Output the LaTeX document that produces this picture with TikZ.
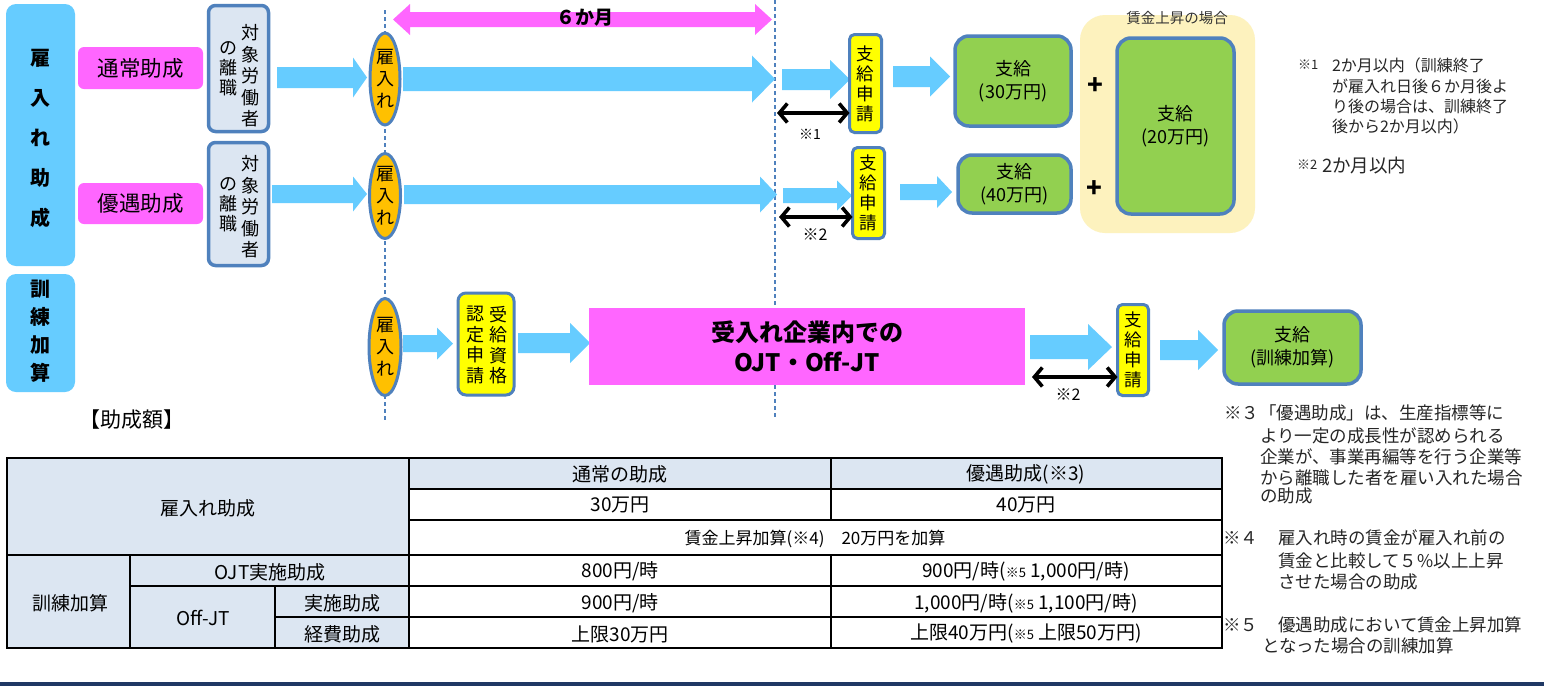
\documentclass[tikz,border=0pt]{standalone}
\usepackage{fontspec}
\setmainfont{Noto Sans CJK JP}
\usetikzlibrary{arrows.meta,shapes.geometric}
\definecolor{skyb}{RGB}{102,204,255}
\definecolor{pinkc}{RGB}{255,102,255}
\definecolor{bordb}{RGB}{79,129,189}
\definecolor{orng}{RGB}{255,192,0}
\definecolor{yell}{RGB}{255,255,0}
\definecolor{grn}{RGB}{146,208,80}
\definecolor{bgray}{RGB}{220,230,242}
\definecolor{cream}{RGB}{253,242,190}
\definecolor{navy}{RGB}{31,56,100}
\newcommand{\fsz}[2]{\fontsize{#1}{#2}\selectfont}
% block arrow: x1, x2, yc, half shaft, half head, head start
\newcommand{\barrow}[6]{%
  \fill[skyb] (#1,#3-#4) -- (#6,#3-#4) -- (#6,#3-#5) -- (#2,#3) -- (#6,#3+#5) -- (#6,#3+#4) -- (#1,#3+#4) -- cycle;}
\tikzset{
  bigbox/.style={fill=skyb, rounded corners=10pt},
  pinkbox/.style={fill=pinkc, rounded corners=6pt, font=\fsz{21.5}{24}},
  tgtbox/.style={draw=bordb, line width=3.5pt, fill=bgray, rounded corners=7pt},
  hireell/.style={ellipse, draw=bordb, line width=3pt, fill=orng, font=\fsz{18}{22}, align=center},
  appbox/.style={draw=bordb, line width=3pt, fill=yell, rounded corners=5pt, font=\fsz{17.5}{20}, align=center},
  paybox/.style={draw=bordb, line width=3.5pt, fill=grn, rounded corners=14pt, font=\fsz{18}{23}, align=center},
  dline/.style={bordb, line width=1.2pt, dash pattern=on 4pt off 3pt},
  dblarrow/.style={line width=3.6pt, {Straight Barb[length=8pt,width=19pt]}-{Straight Barb[length=8pt,width=19pt]}},
  note/.style={anchor=west, font=\fsz{17.5}{20}, text=black!85},
  tcell/.style={font=\fsz{19}{20}},
  tline/.style={line width=1.5pt}
}
\begin{document}
\begin{tikzpicture}[x=1pt,y=-1pt, every node/.style={inner sep=0pt, outer sep=0pt}]
\useasboundingbox (0,0) rectangle (1544,686);
\fill[white] (0,0) rectangle (1544,686);

% dashed time lines
\draw[dline] (385,10) -- (385,420);
\draw[dline] (775,0) -- (775,418);

% left category boxes
\node[bigbox, minimum width=69, minimum height=262] (hire) at (40.5,135) {};
\node[font=\fsz{20}{40}\bfseries, align=center] (hiret) at (40.5,138) {雇\\入\\れ\\助\\成};
\node[bigbox, minimum width=69, minimum height=118] (train) at (40.5,333) {};
\node[font=\fsz{20}{28}\bfseries, align=center] (traint) at (40.5,331) {訓\\練\\加\\算};

% pink labels
\node[pinkbox, minimum width=125, minimum height=42] (normal) at (140.5,68) {通常助成};
\node[pinkbox, minimum width=125, minimum height=41] (pref) at (140.5,203.5) {優遇助成};

% target worker boxes
\node[tgtbox, minimum width=60, minimum height=126] (tgt1) at (238.5,68.5) {};
\node[font=\fsz{18}{21.5}, align=center] (tgt1r) at (250,76) {対\\象\\労\\働\\者};
\node[font=\fsz{18}{20}, align=center] (tgt1l) at (228,69) {の\\離\\職};
\node[tgtbox, minimum width=60, minimum height=123] (tgt2) at (238.5,204) {};
\node[font=\fsz{18}{21.5}, align=center] (tgt2r) at (250,207) {対\\象\\労\\働\\者};
\node[font=\fsz{18}{20}, align=center] (tgt2l) at (228,205) {の\\離\\職};

% arrows row 1 and 2 (to hiring)
\barrow{277}{367}{77.5}{10.5}{20}{353}
\barrow{272}{367}{194}{9}{17.5}{353}

% hiring ellipses
\node[hireell, minimum width=30, minimum height=92] (hire1) at (385,79) {雇\\入\\れ};
\node[hireell, minimum width=31, minimum height=85] (hire2) at (385,196) {雇\\入\\れ};
\node[hireell, minimum width=32, minimum height=97] (hire3) at (385,347) {雇\\入\\れ};

% six months arrow
\fill[pinkc] (393,19.5) -- (410,4) -- (410,12) -- (755,12) -- (755,4) -- (772,19.5) -- (755,35) -- (755,27) -- (410,27) -- (410,35) -- cycle;
\node[font=\fsz{19}{20}\bfseries] (six) at (585,18) {６か月};

% long arrows
\barrow{403}{775}{79}{12}{23.5}{752}
\barrow{404}{777}{194.5}{9.5}{18}{760}
% short arrows to application
\barrow{782}{850}{79.5}{10.5}{19.5}{830}
\barrow{783}{852}{195.5}{7.5}{15}{837}

% application boxes
\node[appbox, minimum width=32, minimum height=98] (app1) at (865.5,83.5) {支\\給\\申\\請};
\node[appbox, minimum width=32, minimum height=91] (app2) at (868.5,193) {支\\給\\申\\請};
\node[appbox, minimum width=31, minimum height=91] (app3) at (1133,350) {支\\給\\申\\請};

% double arrows (period)
\coordinate (p1) at (777,113);
\coordinate (p2) at (779,217);
\draw[dblarrow] (p1) -- (p1 -| app1.west);
\draw[dblarrow] (p2) -- (p2 -| app2.west);
\node[font=\fsz{14}{15}] (n1) at (810,134) {※1};
\node[font=\fsz{16}{17}] (n2) at (815,235) {※2};

% arrows to payment
\barrow{893}{950}{76.5}{10.5}{20}{930}
\barrow{900}{952}{192}{8}{16}{937}

% wage increase background
\fill[cream, rounded corners=25pt] (1080,15) rectangle (1255,233);
\node[font=\fsz{14.5}{15}, text=black!80] (wagecase) at (1177,18) {賃金上昇の場合};

% payment boxes
\node[paybox, minimum width=116, minimum height=90] (pay1) at (1013,81) {支給\\(30万円)};
\node[paybox, minimum width=113, minimum height=58] (pay2) at (1014.5,184) {支給\\(40万円)};
\node[paybox, minimum width=117, minimum height=176] (pay3) at (1175.5,126) {支給\\(20万円)};
\node[font=\fsz{26}{26}\bfseries] (plus1) at (1095,86) {+};
\node[font=\fsz{26}{26}\bfseries] (plus2) at (1094,189) {+};

% notes top right
\node[note, font=\fsz{13}{14}] (s1) at (1298,65) {※1};
\node[note, font=\fsz{16}{20}] (s1a) at (1332,65) {2か月以内（訓練終了};
\node[note, font=\fsz{16}{20}] (s1b) at (1332,86) {が雇入れ日後６か月後よ};
\node[note, font=\fsz{16}{20}] (s1c) at (1332,106) {り後の場合は、訓練終了};
\node[note, font=\fsz{16}{20}] (s1d) at (1332,126) {後から2か月以内）};
\node[note, font=\fsz{13}{14}] (s2) at (1297,165) {※2};
\node[note, font=\fsz{18.5}{20}] (s2a) at (1322,165) {2か月以内};

% training row
\barrow{403}{453}{343.5}{8.5}{16}{437}
\node[appbox, minimum width=56, minimum height=102, rounded corners=8pt] (cert) at (486,344) {};
\node[font=\fsz{18}{20.5}, align=center] (certr) at (498,345) {受\\給\\資\\格};
\node[font=\fsz{18}{20.5}, align=center] (certl) at (475,345) {認\\定\\申\\請};
\barrow{518}{590}{343}{10}{20}{570}
\node[fill=pinkc, minimum width=436, minimum height=77, font=\fsz{24}{30}\bfseries, align=center] (ojt) at (807,346.5) {受入れ企業内での\\OJT・Off-JT};
\barrow{1030}{1112}{347}{12}{23}{1088}
\coordinate (p3) at (1032,377);
\draw[dblarrow] (p3) -- (p3 -| app3.west);
\node[font=\fsz{16}{17}] (n3) at (1068,395) {※2};
\barrow{1160}{1218}{350}{10}{20}{1198}
\node[paybox, minimum width=137, minimum height=73] (pay4) at (1292.5,347.5) {支給\\(訓練加算)};

% notes bottom right
\node[note] (s3a) at (1224,413) {※３「優遇助成」は、生産指標等に};
\node[note] (s3b) at (1260,436) {より一定の成長性が認められる};
\node[note] (s3c) at (1260,457) {企業が、事業再編等を行う企業等};
\node[note] (s3d) at (1260,478) {から離職した者を雇い入れた場合};
\node[note] (s3e) at (1260,496) {の助成};
\node[note] (s4) at (1223,538) {※４};
\node[note] (s4a) at (1278,538) {雇入れ時の賃金が雇入れ前の};
\node[note] (s4b) at (1278,561) {賃金と比較して５\%以上上昇};
\node[note] (s4c) at (1278,582) {させた場合の助成};
\node[note] (s5) at (1223,625) {※５};
\node[note] (s5a) at (1278,625) {優遇助成において賃金上昇加算};
\node[note] (s5b) at (1262,646) {となった場合の訓練加算};

% table title
\node[font=\fsz{21}{22}] (ttl) at (132,420) {【助成額】};

% table
\fill[bgray] (7,458) rectangle (409,648);
\fill[bgray] (409,458) rectangle (1222,489);
\draw[tline] (409,458) -- (409,648);
\draw[tline] (831,458) -- (831,520);
\draw[tline] (831,555) -- (831,648);
\draw[tline] (409,489) -- (1222,489);
\draw[tline] (409,520) -- (1222,520);
\draw[tline] (7,555) -- (1222,555);
\draw[tline] (130,586) -- (1222,586);
\draw[tline] (275,617) -- (1222,617);
\draw[tline] (130,555) -- (130,648);
\draw[tline] (275,586) -- (275,648);
\draw[line width=2pt] (7,458) rectangle (1222,648);

\node[tcell] (c11) at (208,508) {雇入れ助成};
\node[tcell] (c21) at (70,603) {訓練加算};
\node[tcell] (c22) at (270,572) {OJT実施助成};
\node[tcell] (c31) at (203,618) {Off-JT};
\node[tcell] (c32) at (342,603) {実施助成};
\node[tcell] (c42) at (342,634) {経費助成};
\node[tcell] (h1) at (620,474) {通常の助成};
\node[tcell] (h2) at (1026,474) {優遇助成(※3)};
\node[tcell] (r1a) at (620,505) {30万円};
\node[tcell] (r1b) at (1026,505) {40万円};
\node[tcell, font=\fsz{17}{18}] (r2) at (815,539) {賃金上昇加算(※4)　20万円を加算};
\node[tcell] (r3a) at (620,571) {800円/時};
\node[tcell] (r3b) at (1026,571) {900円/時({\fsz{13}{14}※5} 1,000円/時)};
\node[tcell] (r4a) at (620,603) {900円/時};
\node[tcell] (r4b) at (1026,603) {1,000円/時({\fsz{13}{14}※5} 1,100円/時)};
\node[tcell] (r5a) at (620,634) {上限30万円};
\node[tcell] (r5b) at (1026,634) {上限40万円({\fsz{13}{14}※5} 上限50万円)};

% bottom bar
\fill[navy] (0,682) rectangle (1544,686);
\end{tikzpicture}
\end{document}
